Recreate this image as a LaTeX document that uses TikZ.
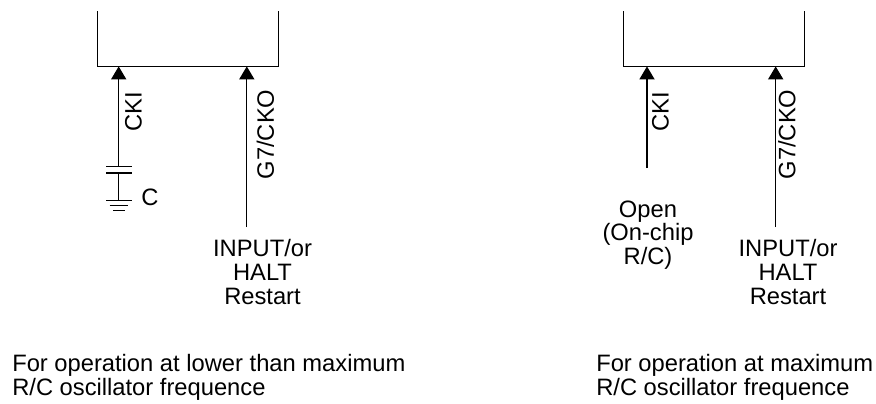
\documentclass[tikz,border=0pt]{standalone}
\usepackage{fontspec}
\setmainfont{Liberation Sans}
\usetikzlibrary{arrows.meta}
\tikzset{
    wire/.style={line width=0.9pt},
    pin/.style={wire,-{Triangle[length=9.8pt,width=11.4pt]}},
    pinname/.style={rotate=90,inner sep=0pt,font=\fontsize{17.8}{17.7}\selectfont},
    note/.style={align=center,inner sep=0pt,font=\fontsize{17.8}{17.7}\selectfont},
    caption/.style={align=left,anchor=north west,inner sep=0pt,font=\fontsize{17.8}{17.7}\selectfont}
}
\begin{document}
\begin{tikzpicture}[x=0.75pt,y=-0.75pt]
        \useasboundingbox (0,0) rectangle (876,404);
        % left circuit
        \coordinate (boxA tl) at (97.4,11);
        \coordinate (boxA tr) at (278.8,11);
        \coordinate (boxA ckI) at (118.7,66.4);
        \coordinate (boxA ckO) at (246.8,66.4);
        \coordinate (capA top) at (118.7,166.5);
        \coordinate (capA bot) at (118.7,173);
        \coordinate (gndA) at (118.7,200.7);
        \coordinate (inA) at (246.8,227);
        \draw [wire] (boxA tl) |- (boxA ckI) -- (boxA ckO) -| (boxA tr);
        \draw [pin] (capA top) -- (boxA ckI);
        \draw [pin] (inA) -- (boxA ckO);
        \draw [wire] (capA bot) -- (gndA);
        \draw [wire] (106,166.5) -- (132,166.5);
        \draw [wire] (106,173) -- (132,173);
        \draw [wire] (106,200.7) -- (132,200.7);
        \draw [wire] (109.5,205.7) -- (128,205.7);
        \draw [wire] (113,210.7) -- (125,210.7);
        \node [pinname] (ckiA) at (133.5,111.5) {CKI};
        \node [pinname] (ckoA) at (265.5,134.5) {G7/CKO};
        \node [note] (capAlabel) at (150,197) {C};
        \node [note] (inAlabel) at (262.5,272) {INPUT/or\\HALT\\Restart};
        \node [caption] (capAtext) at (12,354) {For operation at lower than maximum\\R/C oscillator frequence};
        % right circuit
        \coordinate (boxB tl) at (623.4,11);
        \coordinate (boxB tr) at (804.8,11);
        \coordinate (boxB ckI) at (647,66.4);
        \coordinate (boxB ckO) at (775.7,66.4);
        \coordinate (openB) at (647,168);
        \coordinate (inB) at (775.7,227);
        \draw [wire] (boxB tl) |- (boxB ckI) -- (boxB ckO) -| (boxB tr);
        \draw [pin] (openB) -- (boxB ckI);
        \draw [pin] (inB) -- (boxB ckO);
        \node [pinname] (ckiB) at (660.5,111.5) {CKI};
        \node [pinname] (ckoB) at (787,134.5) {G7/CKO};
        \node [note] (openBlabel) at (648,235) {Open\\(On-chip\\R/C)};
        \node [note] (inBlabel) at (788,272) {INPUT/or\\HALT\\Restart};
        \node [caption] (capBtext) at (596,354) {For operation at maximum\\R/C oscillator frequence};
    \end{tikzpicture}
\end{document}
